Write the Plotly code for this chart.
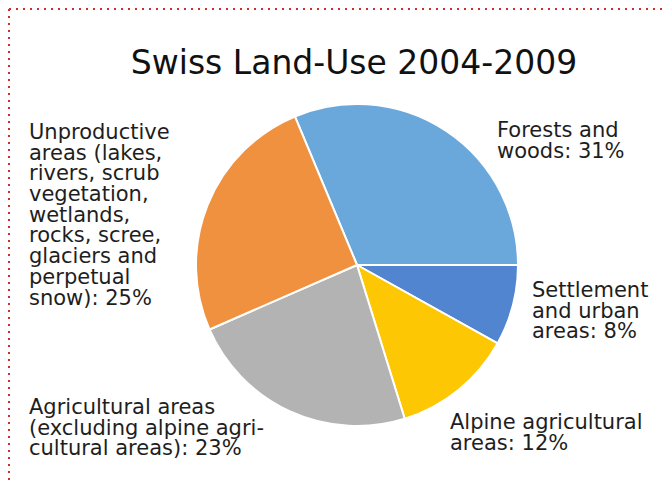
import plotly.graph_objects as go

# ---- data ----
categories = ["Forests and woods", "Settlement and urban areas", "Alpine agricultural areas",
              "Agricultural areas", "Unproductive areas"]
values = [31, 8, 12, 23, 25]
colors = ["#6AA8DB", "#5285D0", "#FDC704", "#B3B3B3", "#F0913F"]
# wrapped label lines (percentage appended from values)
label_lines = [
    ["Forests and", "woods"],
    ["Settlement", "and urban", "areas"],
    ["Alpine agricultural", "areas"],
    ["Agricultural areas", "(excluding alpine agri-", "cultural areas)"],
    ["Unproductive", "areas (lakes,", "rivers, scrub", "vegetation,", "wetlands,",
     "rocks, scree,", "glaciers and", "perpetual", "snow)"],
]
title_text = "Swiss Land-Use 2004-2009"

W, H = 670, 480
OFF = 8  # page body margin offset
# label placement (left x, first line centre y) in page pixels
label_pos = [(495, 130), (530, 290), (448, 422), (27, 407), (27, 132)]
line_step = 20.7
cx, cy, R = 357 - OFF, 265 - OFF, 161


def px_x(x):
    return (x - OFF) / W


def px_y(y):
    return 1 - (y - OFF) / H


fig = go.Figure()
fig.add_trace(go.Pie(
    labels=categories, values=values, sort=False, direction="clockwise",
    rotation=-22.7, textinfo="none", hoverinfo="label+percent",
    marker=dict(colors=colors, line=dict(color="white", width=2)),
    domain=dict(x=[(cx - R) / W, (cx + R) / W], y=[1 - (cy + R) / H, 1 - (cy - R) / H]),
    showlegend=False,
))

annotations = []
for lines, v, (px, py) in zip(label_lines, values, label_pos):
    full = lines[:-1] + [f"{lines[-1]}: {v}%"]
    for i, ln in enumerate(full):
        annotations.append(dict(
            text=ln, xref="paper", yref="paper", x=px_x(px), y=px_y(py + i * line_step),
            xanchor="left", yanchor="middle", showarrow=False,
            font=dict(family="DejaVu Sans", size=21, color="#1E1E1E"),
        ))

# dotted red border (top and left)
shapes = [
    dict(type="line", xref="paper", yref="paper", x0=1 / W, x1=1.0, y0=1 - 1 / H, y1=1 - 1 / H,
         line=dict(color="#D42A2A", width=2, dash="2px,5px")),
    dict(type="line", xref="paper", yref="paper", x0=1 / W, x1=1 / W, y0=1 - 1 / H, y1=0,
         line=dict(color="#D42A2A", width=2, dash="2px,5px")),
]

fig.update_layout(
    width=W, height=H, margin=dict(l=0, r=0, t=0, b=0),
    paper_bgcolor="white", plot_bgcolor="white",
    title=dict(text=title_text, x=px_x(354), xanchor="center", xref="paper",
               y=px_y(62), yanchor="middle", yref="container",
               font=dict(family="DejaVu Sans", size=33, color="#111111")),
    annotations=annotations, shapes=shapes,
)

fig.write_html("out.html")
